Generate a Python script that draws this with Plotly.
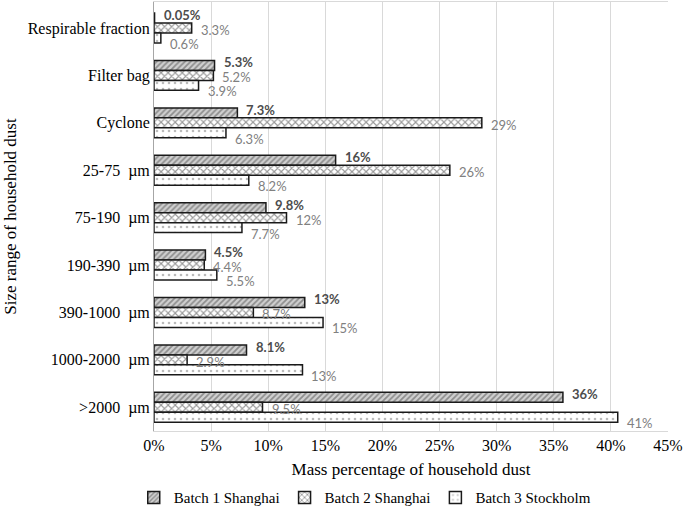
import plotly.graph_objects as go

categories = ["Respirable fraction", "Filter bag", "Cyclone", "25-75  µm", "75-190  µm",
              "190-390  µm", "390-1000  µm", "1000-2000  µm", ">2000  µm"]
batch1 = [0.05, 5.3, 7.3, 15.9, 9.8, 4.5, 13.2, 8.1, 35.8]
batch2 = [3.3, 5.2, 28.7, 25.9, 11.6, 4.4, 8.7, 2.9, 9.5]
batch3 = [0.6, 3.9, 6.3, 8.3, 7.7, 5.5, 14.8, 13.0, 40.6]
labels1 = ["0.05%", "5.3%", "7.3%", "16%", "9.8%", "4.5%", "13%", "8.1%", "36%"]
labels2 = ["3.3%", "5.2%", "29%", "26%", "12%", "4.4%", "8.7%", "2.9%", "9.5%"]
labels3 = ["0.6%", "3.9%", "6.3%", "8.2%", "7.7%", "5.5%", "15%", "13%", "41%"]
series_names = ["Batch 1 Shanghai", "Batch 2 Shanghai", "Batch 3 Stockholm"]
x_ticks = [0, 5, 10, 15, 20, 25, 30, 35, 40, 45]
x_ticklabels = [f"{v}%" for v in x_ticks]

serif = "Liberation Serif"
sans = "Lato"

values = [batch1, batch2, batch3]
labels = [labels1, labels2, labels3]
patterns = [
    dict(shape="/", fgcolor="#4a4a4a", bgcolor="#d0d0d0", size=4, solidity=0.45),
    dict(shape="x", fgcolor="#333333", bgcolor="white", size=5, solidity=0.4),
    dict(shape=".", fgcolor="#777777", bgcolor="white", size=6, solidity=0.15),
]
label_styles = [
    dict(color="#4d4d4d", weight="bold"),
    dict(color="#808080"),
    dict(color="#808080"),
]
label_yshift = [13, -2, -16]

fig = go.Figure()
for name, vals, pat in zip(series_names, values, patterns):
    fig.add_trace(go.Bar(
        name=name, y=categories, x=vals, orientation="h",
        marker=dict(color="white", line=dict(color="#1a1a1a", width=1.5), pattern=pat),
    ))

for vals, labs, sty, ys in zip(values, labels, label_styles, label_yshift):
    for cat, v, t in zip(categories, vals, labs):
        fig.add_annotation(
            x=v, y=cat, text=t, showarrow=False, xanchor="left", yanchor="middle",
            xshift=7, yshift=ys,
            font=dict(family=sans, size=13, **sty),
        )

fig.update_layout(
    width=685, height=509,
    margin=dict(l=154, r=17, t=2, b=78, autoexpand=False),
    paper_bgcolor="white", plot_bgcolor="white",
    barmode="group", bargap=0.37, bargroupgap=0,
    font=dict(family=serif, size=16, color="black"),
    legend=dict(orientation="h", x=0.41, xanchor="center", y=-0.117, yanchor="top",
                font=dict(family=serif, size=15, color="black"), itemwidth=30),
    showlegend=True,
)
fig.update_xaxes(
    range=[0, 45], tickvals=x_ticks, ticktext=x_ticklabels,
    showgrid=True, gridcolor="#d9d9d9", gridwidth=1,
    showline=True, linecolor="#d9d9d9", mirror=True, zeroline=False,
    tickfont=dict(family=serif, size=16), automargin=False, ticklabelstandoff=0,
    title=dict(text="Mass percentage of household dust", font=dict(family=serif, size=17), standoff=9),
)
fig.update_yaxes(
    type="category", autorange="reversed", automargin=False,
    showline=True, linecolor="#a6a6a6", mirror=False,
    ticks="", tickfont=dict(family=serif, size=16),
    title=dict(text="Size range of household dust", font=dict(family=serif, size=17), standoff=6),
)

fig.write_html("out.html", config={"displayModeBar": False},
               post_script="document.body.style.margin='0';")
